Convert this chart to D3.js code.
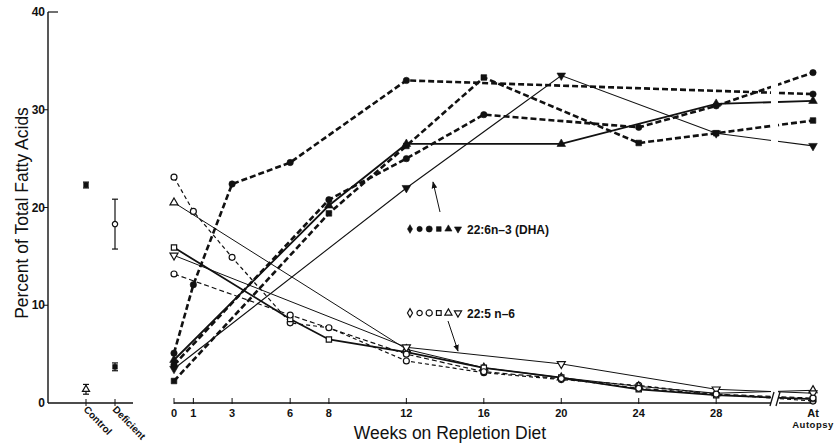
<!DOCTYPE html>
<html lang="en">
<head>
<meta charset="UTF-8"/>
<title>Fatty acids repletion</title>
<script src="https://cdn.jsdelivr.net/npm/d3@7"></script>
<style>
  body { margin: 0; background: #fff; }
  svg { display: block; }
  text { font-family: "Liberation Sans", Arial, sans-serif; fill: #111; }
  .tick-label { font-size: 11px; font-weight: bold; }
  .title { font-size: 17.5px; }
</style>
</head>
<body>
<svg width="836" height="446"></svg>
<script>
// week ticks; "At autopsy" sits at week 33 on the scale (after the axis break)
const AL = 33
const weekTicks = [0, 1, 3, 6, 8, 12, 16, 20, 24, 28]
const yTicks = [0, 10, 20, 30, 40]

// 22:6 n-3 (DHA) series  [week, percent]
const dhaA = [[0, 5.1], [1, 12.1], [3, 22.4], [6, 24.6], [12, 33.0], [AL, 31.6]]
const dhaB = [[0, 2.25], [8, 19.4], [12, 26.3], [16, 33.3], [24, 26.6], [28, 27.6], [AL, 28.9]]
const dhaC = [[0, 3.9], [8, 20.8], [12, 25.0], [16, 29.5], [24, 28.2], [28, 30.4], [AL, 33.8]]
const dhaUp = [[0, 4.4], [8, 20.2], [12, 26.5], [20, 26.5], [28, 30.6], [AL, 30.9]]
const dhaDown = [[0, 3.5], [12, 22.0], [20, 33.5], [28, 27.6], [AL, 26.3]]

// 22:5 n-6 series
const n6A = [[0, 23.1], [1, 19.6], [3, 14.9], [6, 8.2], [8, 7.7], [12, 4.3], [16, 3.1], [20, 2.4], [24, 1.8], [28, 0.9], [AL, 0.2]]
const n6Up = [[0, 20.5], [12, 5.5], [16, 3.6], [20, 2.6], [24, 1.7], [28, 1.0], [AL, 1.3]]
const n6Sq = [[0, 15.9], [6, 8.6], [8, 6.5], [12, 5.2], [16, 3.6], [20, 2.6], [24, 1.4], [28, 0.8], [AL, 0.4]]
const n6Down = [[0, 15.1], [12, 5.7], [20, 4.0], [28, 1.4], [AL, 1.0]]
const n6E = [[0, 13.2], [6, 9.0], [12, 5.0], [16, 3.2], [20, 2.5], [24, 1.5], [28, 0.9], [AL, 0.5]]

// control / deficient reference animals
const groups = ['Control', 'Deficient']
const groupDha = [22.3, 3.7]
const groupDhaErr = [0.3, 0.4]
const groupN6 = [1.4, 18.3]
const groupN6Err = [0.5, 2.55]

const series = [
  { data: dhaA, sym: 'circle', filled: true, w: 2.6, dash: '6,3' },
  { data: dhaB, sym: 'square', filled: true, w: 2.6, dash: '6,3' },
  { data: dhaC, sym: 'circle', filled: true, w: 2.6, dash: '6,3' },
  { data: dhaUp, sym: 'up', filled: true, w: 1.8, dash: null },
  { data: dhaDown, sym: 'down', filled: true, w: 1.1, dash: null },
  { data: n6A, sym: 'circle', filled: false, w: 1.2, dash: '4,3' },
  { data: n6Up, sym: 'up', filled: false, w: 1, dash: null },
  { data: n6Sq, sym: 'square', filled: false, w: 1.8, dash: null },
  { data: n6Down, sym: 'down', filled: false, w: 1, dash: null },
  { data: n6E, sym: 'circle', filled: false, w: 1.2, dash: '5,3' }
]

const svg = d3.select('svg')

const x = d3.scaleLinear().domain([0, AL]).range([174, 813])
const y = d3.scaleLinear().domain([0, 40]).range([403, 12])
const xg = d3.scalePoint().domain(groups).range([86, 115])

const breakL = 771, breakR = 778

const shapes = {
  circle: d3.symbolCircle,
  square: d3.symbolSquare,
  up: d3.symbolTriangle,
  down: d3.symbolTriangle,
  diamond: d3.symbolDiamond
}
function marker(sel, sym, filled, size) {
  sel.append('path')
    .attr('d', d3.symbol().type(shapes[sym]).size(size || 30))
    .attr('transform', sym === 'down' ? 'rotate(180)' : null)
    .attr('fill', filled ? '#111' : '#fff')
    .attr('stroke', '#111')
    .attr('stroke-width', filled ? 0.6 : 1.2)
}

// clip out the axis break
const defs = svg.append('defs')
const clip = defs.append('clipPath').attr('id', 'brk')
clip.append('rect').attr('x', 0).attr('y', 0).attr('width', breakL).attr('height', 446)
clip.append('rect').attr('x', breakR).attr('y', 0).attr('width', 836 - breakR).attr('height', 446)

// ---- y axis
const yAxis = svg.append('g')
yAxis.append('line')
  .attr('x1', 48).attr('x2', 48)
  .attr('y1', y(40)).attr('y2', y(0))
  .attr('stroke', '#111').attr('stroke-width', 1.4)
yAxis.append('line')
  .attr('x1', 48).attr('x2', 58)
  .attr('y1', y(40)).attr('y2', y(40))
  .attr('stroke', '#111').attr('stroke-width', 1.2)
yAxis.selectAll('.yt')
  .data(yTicks.slice(1, 4))
  .enter().append('line')
  .attr('x1', 44).attr('x2', 48)
  .attr('y1', d => y(d)).attr('y2', d => y(d))
  .attr('stroke', '#111')
yAxis.selectAll('.yl')
  .data(yTicks)
  .enter().append('text')
  .attr('class', 'tick-label')
  .attr('x', 45)
  .attr('y', d => y(d) + 4)
  .attr('text-anchor', 'end')
  .style('font-size', '12px')
  .text(d => d)

svg.append('text')
  .attr('class', 'title')
  .attr('transform', `translate(28, 213) rotate(-90)`)
  .attr('text-anchor', 'middle')
  .text('Percent of Total Fatty Acids')

// ---- left group axis
svg.append('line')
  .attr('x1', 48).attr('x2', 133)
  .attr('y1', y(0)).attr('y2', y(0))
  .attr('stroke', '#111').attr('stroke-width', 1.4)
svg.selectAll('.gt')
  .data(groups)
  .enter().append('line')
  .attr('x1', d => xg(d)).attr('x2', d => xg(d))
  .attr('y1', y(0) - 4).attr('y2', y(0) + 3)
  .attr('stroke', '#111')
svg.selectAll('.gl')
  .data(groups)
  .enter().append('text')
  .attr('class', 'tick-label')
  .attr('transform', d => `translate(${xg(d) - 3}, ${y(0) + 7}) rotate(46)`)
  .style('font-size', '10px')
  .text(d => d)

const gPts = svg.append('g')
groups.forEach((g, i) => {
  const pairs = [[groupDha[i], groupDhaErr[i], true, 'square'],
                 [groupN6[i], groupN6Err[i], false, i === 0 ? 'up' : 'circle']]
  pairs.forEach(p => {
    const cx = xg(g)
    gPts.append('line')
      .attr('x1', cx).attr('x2', cx)
      .attr('y1', y(p[0] - p[1])).attr('y2', y(p[0] + p[1]))
      .attr('stroke', '#111').attr('stroke-width', 1.2)
    ;[p[0] - p[1], p[0] + p[1]].forEach(v => {
      gPts.append('line')
        .attr('x1', cx - 3).attr('x2', cx + 3)
        .attr('y1', y(v)).attr('y2', y(v))
        .attr('stroke', '#111').attr('stroke-width', 1.2)
    })
    const m = gPts.append('g').attr('transform', `translate(${cx}, ${y(p[0])})`)
    marker(m, p[3], p[2], 22)
  })
})

// ---- week axis
const xAxis = svg.append('g')
xAxis.append('line')
  .attr('x1', x(0)).attr('x2', breakL)
  .attr('y1', y(0)).attr('y2', y(0))
  .attr('stroke', '#111').attr('stroke-width', 1.4)
xAxis.append('line')
  .attr('x1', breakR + 1).attr('x2', x(AL))
  .attr('y1', y(0)).attr('y2', y(0))
  .attr('stroke', '#111').attr('stroke-width', 1.4)
xAxis.selectAll('.slash')
  .data([breakL + 1, breakR])
  .enter().append('line')
  .attr('x1', d => d - 2).attr('x2', d => d + 2)
  .attr('y1', y(0) + 3).attr('y2', y(0) - 11)
  .attr('stroke', '#111').attr('stroke-width', 1.3)
xAxis.selectAll('.xt')
  .data(weekTicks.concat([AL]))
  .enter().append('line')
  .attr('x1', d => x(d)).attr('x2', d => x(d))
  .attr('y1', y(0) - 5).attr('y2', y(0) + 1)
  .attr('stroke', '#111')
xAxis.selectAll('.xl')
  .data(weekTicks)
  .enter().append('text')
  .attr('class', 'tick-label')
  .attr('x', d => x(d))
  .attr('y', y(0) + 14)
  .attr('text-anchor', 'middle')
  .text(d => d)
xAxis.append('text')
  .attr('class', 'tick-label')
  .attr('x', x(AL)).attr('y', y(0) + 14)
  .attr('text-anchor', 'middle')
  .text('At')
xAxis.append('text')
  .attr('class', 'tick-label')
  .attr('x', x(AL)).attr('y', y(0) + 25)
  .attr('text-anchor', 'middle')
  .style('font-size', '9.5px')
  .style('letter-spacing', '0.5px')
  .text('Autopsy')

svg.append('text')
  .attr('class', 'title')
  .attr('x', 450).attr('y', 439)
  .attr('text-anchor', 'middle')
  .text('Weeks on Repletion Diet')

// ---- series lines
const line = d3.line().x(d => x(d[0])).y(d => y(d[1]))
const lines = svg.append('g').attr('clip-path', 'url(#brk)')
series.forEach(s => {
  lines.append('path')
    .attr('d', line(s.data))
    .attr('fill', 'none')
    .attr('stroke', '#111')
    .attr('stroke-width', s.w)
    .attr('stroke-dasharray', s.dash)
})
const marks = svg.append('g')
series.forEach(s => {
  s.data.forEach(d => {
    const m = marks.append('g').attr('transform', `translate(${x(d[0])}, ${y(d[1])})`)
    marker(m, s.sym, s.filled, s.filled ? 32 : 28)
  })
})

// ---- legends
const legSyms = ['diamond', 'circle', 'circle', 'square', 'up', 'down']
function legend(yy, filled, label) {
  const g = svg.append('g')
  legSyms.forEach((s, i) => {
    const m = g.append('g').attr('transform', `translate(${410 + i * 9.6}, ${yy})`)
    marker(m, s, filled, i === 2 ? 30 : 22)
  })
  g.append('text')
    .attr('x', 467).attr('y', yy + 4.5)
    .style('font-size', '12px')
    .style('font-weight', 'bold')
    .text(label)
}
legend(229, true, '22:6n\u20133 (DHA)')
legend(313, false, '22:5 n\u20136')

// arrows
defs.append('marker')
  .attr('id', 'ah').attr('viewBox', '0 0 10 10')
  .attr('refX', 9).attr('refY', 5)
  .attr('markerWidth', 7).attr('markerHeight', 7)
  .attr('orient', 'auto')
  .append('path').attr('d', 'M0,1 L10,5 L0,9 Z').attr('fill', '#111')
svg.append('line')
  .attr('x1', 440).attr('y1', 212).attr('x2', 433).attr('y2', 182)
  .attr('stroke', '#111').attr('stroke-width', 1)
  .attr('marker-end', 'url(#ah)')
svg.append('line')
  .attr('x1', 448).attr('y1', 321).attr('x2', 458).attr('y2', 351)
  .attr('stroke', '#111').attr('stroke-width', 1)
  .attr('marker-end', 'url(#ah)')
</script>
</body>
</html>
